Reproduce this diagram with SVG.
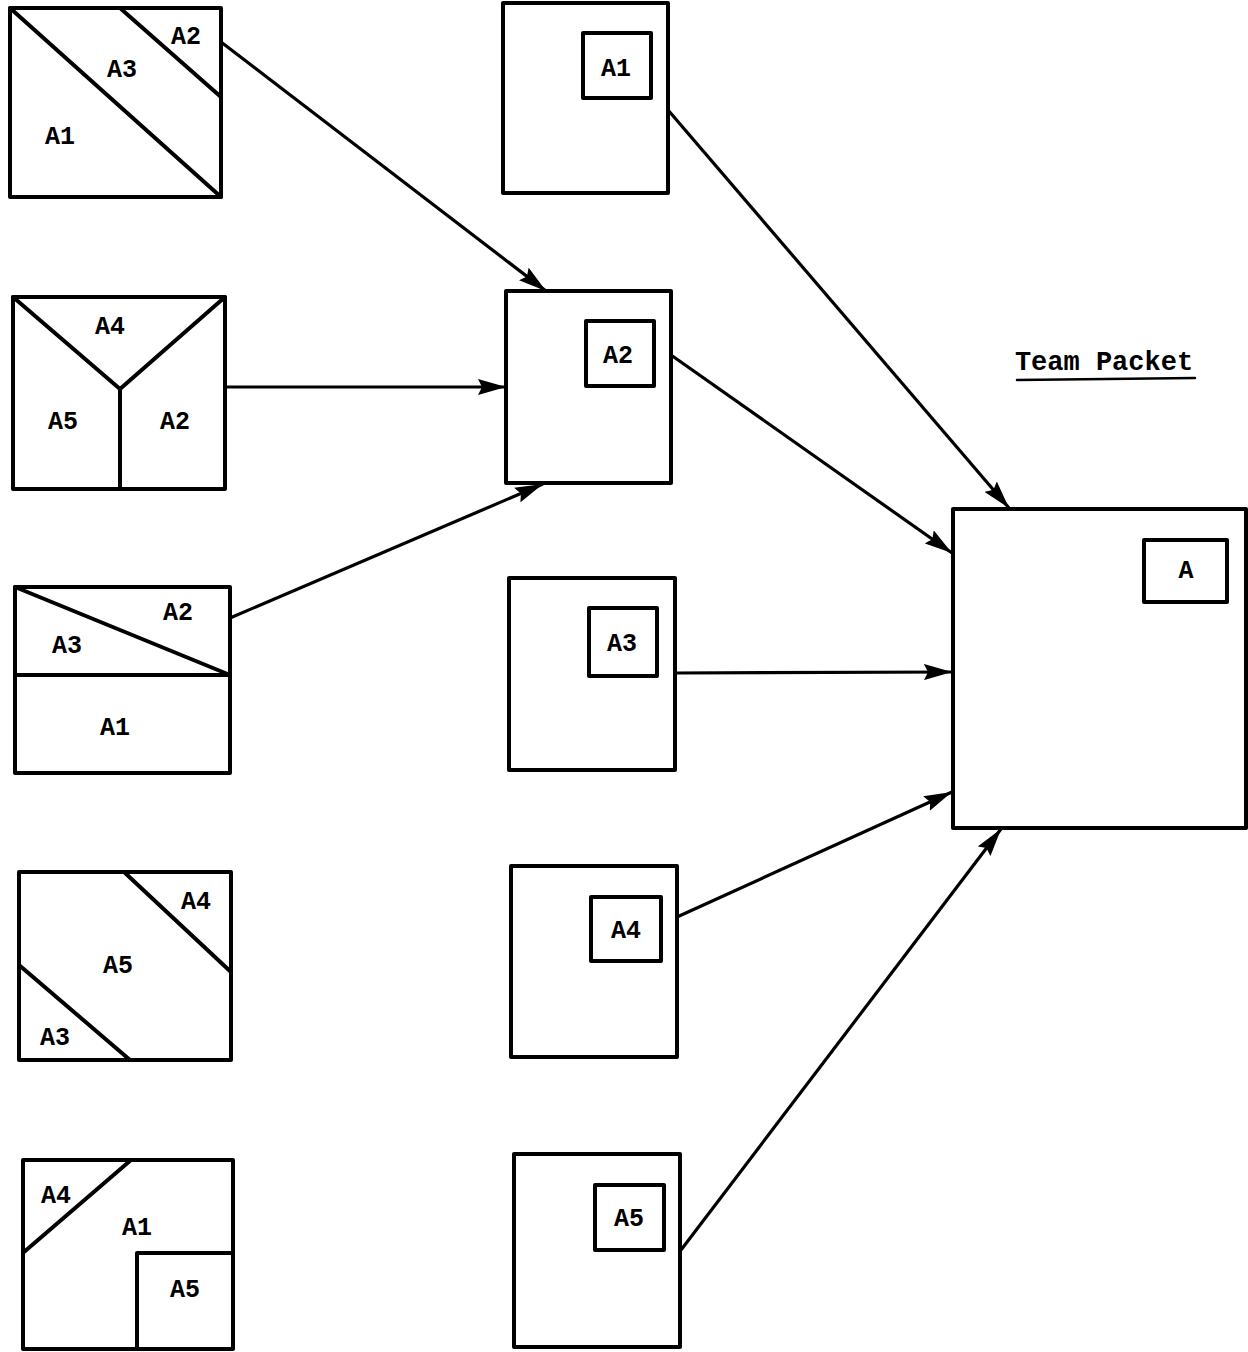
<svg xmlns="http://www.w3.org/2000/svg" width="1248" height="1352" viewBox="0 0 1248 1352">
<style>
.b{fill:none;stroke:#000;stroke-width:4;stroke-linejoin:round}
.l{fill:none;stroke:#000;stroke-width:4;stroke-linecap:round}
.c{fill:none;stroke:#000;stroke-width:3.2;marker-end:url(#ah)}
text{font-family:"Liberation Mono","Courier New",monospace;font-weight:bold;font-size:25px;fill:#000;text-anchor:middle;dominant-baseline:central}
</style>
<defs>
<marker id="ah" markerUnits="userSpaceOnUse" markerWidth="28" markerHeight="16" refX="28" refY="8" orient="auto">
<path d="M0,0 L28,8 L0,16 L4,8 z" fill="#000"/>
</marker>
</defs>
<rect width="1248" height="1352" fill="#fff"/>

<g id="L1">
<rect class="b" x="10" y="8" width="211" height="189"/>
<line class="l" x1="10" y1="8" x2="221" y2="197"/>
<line class="l" x1="120" y1="8" x2="221" y2="97"/>
<text x="186" y="37">A2</text>
<text x="122" y="70">A3</text>
<text x="60" y="137">A1</text>
</g>

<g id="L2">
<rect class="b" x="13" y="297" width="212" height="192"/>
<line class="l" x1="13" y1="297" x2="120" y2="389"/>
<line class="l" x1="225" y1="297" x2="120" y2="389"/>
<line class="l" x1="120" y1="389" x2="120" y2="489"/>
<text x="110" y="327">A4</text>
<text x="63" y="422">A5</text>
<text x="175" y="422">A2</text>
</g>

<g id="L3">
<rect class="b" x="15" y="587" width="215" height="186"/>
<line class="l" x1="15" y1="587" x2="230" y2="675"/>
<line class="l" x1="15" y1="675" x2="230" y2="675"/>
<text x="178" y="613">A2</text>
<text x="67" y="646">A3</text>
<text x="115" y="728">A1</text>
</g>

<g id="L4">
<rect class="b" x="19" y="872" width="212" height="188"/>
<line class="l" x1="124" y1="872" x2="231" y2="972"/>
<line class="l" x1="19" y1="965" x2="130" y2="1060"/>
<text x="196" y="902">A4</text>
<text x="118" y="966">A5</text>
<text x="55" y="1038">A3</text>
</g>

<g id="L5">
<rect class="b" x="23" y="1160" width="210" height="189"/>
<line class="l" x1="131" y1="1160" x2="24" y2="1252"/>
<polyline class="b" points="137,1349 137,1253 233,1253"/>
<text x="56" y="1196">A4</text>
<text x="137" y="1228">A1</text>
<text x="185" y="1290">A5</text>
</g>

<g id="M1">
<rect class="b" x="503" y="3" width="165" height="190"/>
<rect class="b" x="583" y="33" width="68" height="65"/>
<text x="616" y="69">A1</text>
</g>

<g id="M2">
<rect class="b" x="506" y="291" width="165" height="192"/>
<rect class="b" x="586" y="321" width="68" height="65"/>
<text x="618" y="356">A2</text>
</g>

<g id="M3">
<rect class="b" x="509" y="578" width="166" height="192"/>
<rect class="b" x="589" y="608" width="68" height="68"/>
<text x="622" y="644">A3</text>
</g>

<g id="M4">
<rect class="b" x="511" y="866" width="166" height="191"/>
<rect class="b" x="591" y="897" width="70" height="64"/>
<text x="626" y="931">A4</text>
</g>

<g id="M5">
<rect class="b" x="514" y="1154" width="166" height="193"/>
<rect class="b" x="595" y="1185" width="69" height="65"/>
<text x="629" y="1219">A5</text>
</g>

<g id="T">
<rect class="b" x="953" y="509" width="293" height="319"/>
<rect class="b" x="1144" y="540" width="83" height="62"/>
<text x="1186" y="571">A</text>
</g>

<g id="title">
<text x="1104" y="363" style="font-size:27px">Team Packet</text>
<line class="l" x1="1017" y1="380" x2="1195" y2="378" style="stroke-width:2.5"/>
</g>

<g id="connectors">
<line class="c" x1="221" y1="42" x2="546" y2="291"/>
<line class="c" x1="227" y1="387" x2="506" y2="387"/>
<line class="c" x1="230" y1="618" x2="543" y2="484"/>
<line class="c" x1="668" y1="110" x2="1009" y2="508"/>
<line class="c" x1="671" y1="355" x2="952" y2="553"/>
<line class="c" x1="675" y1="673" x2="952" y2="672"/>
<line class="c" x1="677" y1="917" x2="952" y2="792"/>
<line class="c" x1="681" y1="1250" x2="1001" y2="829"/>
</g>
</svg>
